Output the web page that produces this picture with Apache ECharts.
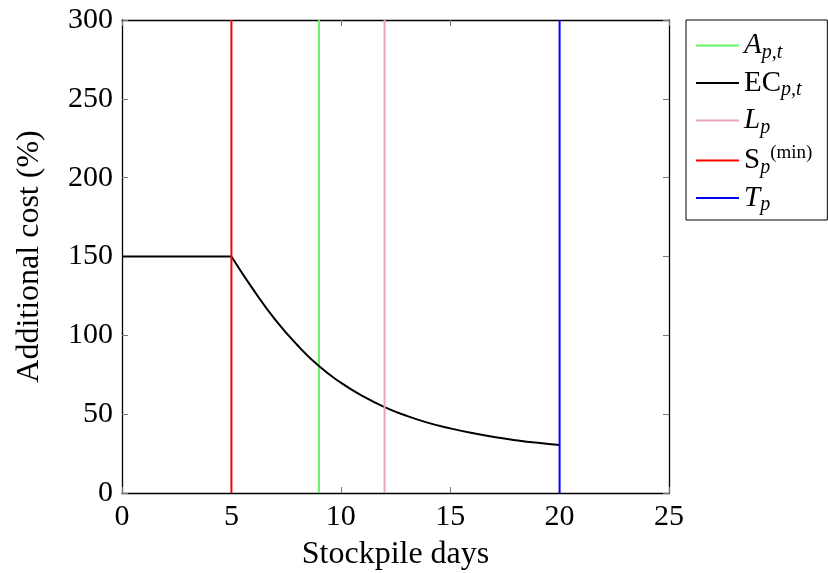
<!DOCTYPE html>
<html>
<head>
<meta charset="utf-8">
<script src="https://cdn.jsdelivr.net/npm/echarts@6/dist/echarts.min.js"></script>
<style>
html,body{margin:0;padding:0;background:#fff}
#chart{width:828px;height:573px}
</style>
</head>
<body>
<div id="chart"></div>
<script>
// data
var days = [5, 6, 7, 8, 9, 10, 11, 12, 13, 14, 15, 16, 17, 18, 19, 20];
var ecValues = [150, 129, 110, 94, 80.5, 70, 61.5, 54.5, 49, 44.5, 41, 38, 35.5, 33.5, 31.8, 30.4];
var flatDays = [0, 5];
var flatValues = [150, 150];
var aDay = 9, lDay = 12, sDay = 5, tDay = 20;
var yTop = 300;

var font = '"Liberation Serif", "DejaVu Serif", serif';

var ecCurve = days.map(function (d, i) { return [d, ecValues[i]]; });
var ecFlat = flatDays.map(function (d, i) { return [d, flatValues[i]]; });

function vline(x) { return [[x, 0], [x, yTop]]; }

var legendText = {
  A: '{it|A}{sub|p,t}',
  EC: '{rm|EC}{sub|p,t}',
  L: '{it|L}{sub|p}',
  S: '{rm|S}{sub|p}{sup|(min)}',
  T: '{it|T}{sub|p}'
};

var myChart = echarts.init(document.getElementById('chart'));

var frameLine = { show: true, onZero: false, lineStyle: { color: '#000', width: 1.3 } };
var frameTick = { show: true, inside: true, length: 6, lineStyle: { color: '#777' } };

var option = {
  animation: false,
  textStyle: { fontFamily: font, color: '#000' },
  grid: { left: 122, right: 159, top: 20, bottom: 80, containLabel: false, outerBoundsMode: 'none' },
  legend: {
    orient: 'vertical',
    left: 686,
    top: 20,
    padding: [11, 15, 5, 10],
    borderColor: '#000',
    borderWidth: 1,
    itemGap: 6,
    itemWidth: 43,
    itemHeight: 2,
    icon: 'rect',
    data: ['A', 'EC', 'L', 'S', 'T'],
    formatter: function (name) { return legendText[name]; },
    textStyle: {
      fontFamily: font,
      color: '#000',
      rich: {
        it: { fontSize: 29, fontStyle: 'italic', fontFamily: font, lineHeight: 33 },
        rm: { fontSize: 29, fontFamily: font, lineHeight: 33 },
        sub: { fontSize: 20, fontStyle: 'italic', fontFamily: font, verticalAlign: 'bottom', padding: [14, 0, 0, 0] },
        sup: { fontSize: 19, fontFamily: font, verticalAlign: 'top', padding: [0, 0, 12, 0] }
      }
    }
  },
  xAxis: [{
    type: 'value', min: 0, max: 25, interval: 5,
    name: 'Stockpile days', nameLocation: 'middle', nameGap: 46,
    nameTextStyle: { fontSize: 32, fontFamily: font, color: '#000' },
    axisLine: frameLine,
    axisTick: frameTick,
    axisLabel: { fontSize: 30, fontFamily: font, color: '#000', margin: 9 },
    splitLine: { show: false }
  }, {
    type: 'value', position: 'top', min: 0, max: 25, interval: 5,
    axisLine: frameLine,
    axisTick: frameTick,
    axisLabel: { show: false },
    splitLine: { show: false }
  }],
  yAxis: [{
    type: 'value', min: 0, max: 300, interval: 50,
    name: 'Additional cost (%)', nameLocation: 'middle', nameGap: 76,
    nameTextStyle: { fontSize: 32, fontFamily: font, color: '#000' },
    axisLine: frameLine,
    axisTick: frameTick,
    axisLabel: { fontSize: 30, fontFamily: font, color: '#000', margin: 9 },
    splitLine: { show: false }
  }, {
    type: 'value', position: 'right', min: 0, max: 300, interval: 50,
    axisLine: frameLine,
    axisTick: frameTick,
    axisLabel: { show: false },
    splitLine: { show: false }
  }],
  series: [
    { name: 'A', type: 'line', data: vline(aDay), symbol: 'none', color: '#66f266', lineStyle: { width: 2 } },
    { name: 'EC', type: 'line', data: ecFlat, symbol: 'none', color: '#000', lineStyle: { width: 2 } },
    { name: 'EC', type: 'line', data: ecCurve, smooth: 0.5, symbol: 'none', color: '#000', lineStyle: { width: 2 } },
    { name: 'L', type: 'line', data: vline(lDay), symbol: 'none', color: '#e8a3bd', lineStyle: { width: 2 } },
    { name: 'S', type: 'line', data: vline(sDay), symbol: 'none', color: '#ff0000', lineStyle: { width: 2 } },
    { name: 'T', type: 'line', data: vline(tDay), symbol: 'none', color: '#0000ff', lineStyle: { width: 2 } }
  ]
};

myChart.setOption(option);
</script>
</body>
</html>
